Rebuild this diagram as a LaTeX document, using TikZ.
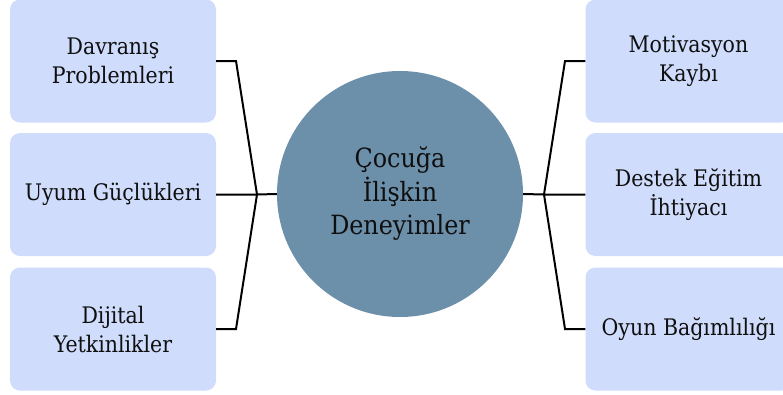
\documentclass[tikz,border=0pt]{standalone}
\usepackage{fontspec}
\setmainfont{DejaVu Serif Condensed}
\definecolor{boxc}{RGB}{207,220,251}
\definecolor{circc}{RGB}{108,143,170}
\definecolor{txtc}{RGB}{15,15,15}
\tikzset{
  itembox/.style={fill=boxc, rounded corners=10pt, minimum width=206pt, minimum height=123pt,
    inner sep=0pt, align=center, text=txtc, font=\fontsize{22.8}{29}\selectfont},
  hub/.style={circle, fill=circc, minimum size=246pt, inner sep=0pt, align=center, text=txtc,
    font=\fontsize{26.5}{33.5}\selectfont},
  conn/.style={draw=black, line width=2pt, line join=miter}
}
\begin{document}
\begin{tikzpicture}[x=1pt,y=-1pt]
\useasboundingbox (0,0) rectangle (783,394);
\clip (0,0) rectangle (783,394);
\node[itembox] (l1) at (113,61) {Davranış\\Problemleri};
\node[itembox] (l2) at (113,194.5) {Uyum Güçlükleri};
\node[itembox] (l3) at (113,329) {Dijital\\Yetkinlikler};
\node[itembox] (r1) at (688.5,61) {Motivasyon\\Kaybı};
\node[itembox] (r2) at (688.5,194.5) {Destek Eğitim\\İhtiyacı};
\node[itembox] (r3) at (688.5,329) {Oyun Bağımlılığı};
\node[hub] (c) at (400,194) {Çocuğa\\İlişkin\\Deneyimler};
\coordinate (jl) at (257,194.5);
\coordinate (jr) at (544,194.5);
\coordinate (kl1) at (236,61);
\coordinate (kl3) at (236,329);
\coordinate (kr1) at (565,61);
\coordinate (kr3) at (565,329);
\draw[conn] (l1.east) -- (kl1) -- (jl) -- (kl3) -- (l3.east);
\draw[conn] (l2.east) -- (jl) -- (c.west);
\draw[conn] (r1.west) -- (kr1) -- (jr) -- (kr3) -- (r3.west);
\draw[conn] (r2.west) -- (jr) -- (c.east);
\end{tikzpicture}
\end{document}
